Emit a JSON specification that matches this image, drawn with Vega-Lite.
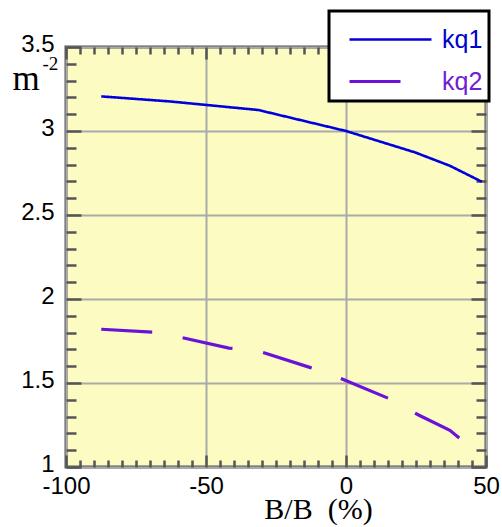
{
  "$schema": "https://vega.github.io/schema/vega-lite/v6.json",
  "width": 420,
  "height": 420,
  "autosize": "none",
  "padding": {"left": 66, "top": 47, "right": 16, "bottom": 60},
  "background": "white",
  "config": {
    "view": {"fill": "#fbfbc2", "stroke": "#555555", "strokeWidth": 3},
    "axis": {
      "labelFont": "Liberation Sans",
      "labelFontSize": 24,
      "labelColor": "black",
      "labelFlush": false,
      "labelOverlap": false,
      "labelBound": false,
      "domain": false,
      "tickColor": "#555555",
      "tickWidth": 2.5,
      "gridColor": "#aaaaaa",
      "gridWidth": 2
    }
  },
  "data": {
    "values": [
      {"db": -87.4, "m": 3.206, "s": "kq1"},
      {"db": -62.9, "m": 3.176, "s": "kq1"},
      {"db": -31.3, "m": 3.125, "s": "kq1"},
      {"db": 0, "m": 3.0, "s": "kq1"},
      {"db": 24.6, "m": 2.873, "s": "kq1"},
      {"db": 37.1, "m": 2.793, "s": "kq1"},
      {"db": 48.5, "m": 2.698, "s": "kq1"},
      {"db": -87.4, "m": 1.82, "s": "kq2"},
      {"db": -66.6, "m": 1.8, "s": "kq2"},
      {"db": -41.8, "m": 1.708, "s": "kq2"},
      {"db": -31.3, "m": 1.69, "s": "kq2"},
      {"db": -13.5, "m": 1.596, "s": "kq2"},
      {"db": -2.5, "m": 1.532, "s": "kq2"},
      {"db": 15.4, "m": 1.407, "s": "kq2"},
      {"db": 26.1, "m": 1.308, "s": "kq2"},
      {"db": 37.1, "m": 1.218, "s": "kq2"},
      {"db": 42.9, "m": 1.139, "s": "kq2"}
    ]
  },
  "layer": [
    {
      "mark": {"type": "line", "clip": true},
      "encoding": {
        "x": {
          "field": "db", "type": "quantitative",
          "scale": {"domain": [-100, 50], "nice": false, "zero": false},
          "axis": {
            "orient": "bottom",
            "values": [-100,-95,-90,-85,-80,-75,-70,-65,-60,-55,-50,-45,-40,-35,-30,-25,-20,-15,-10,-5,0,5,10,15,20,25,30,35,40,45,50],
            "labelExpr": "datum.value % 50 === 0 ? '' + datum.value : ''",
            "tickSize": {"condition": {"test": "datum.value % 50 === 0", "value": -12}, "value": -7},
            "labelPadding": 19,
            "grid": true,
            "gridOpacity": {"condition": {"test": "datum.value % 50 === 0", "value": 1}, "value": 0},
            "title": "B/B\u00a0 (%)",
            "titleFont": "Liberation Serif",
            "titleFontSize": 30,
            "titleFontWeight": "normal",
            "titleColor": "black",
            "titleX": 252,
            "titleY": 51,
            "titleAlign": "center",
            "titleBaseline": "alphabetic"
          }
        },
        "y": {
          "field": "m", "type": "quantitative",
          "scale": {"domain": [1, 3.5], "nice": false, "zero": false},
          "axis": {
            "orient": "left",
            "values": [1,1.1,1.2,1.3,1.4,1.5,1.6,1.7,1.8,1.9,2,2.1,2.2,2.3,2.4,2.5,2.6,2.7,2.8,2.9,3,3.1,3.2,3.3,3.4,3.5],
            "labelExpr": "abs(datum.value*2 - round(datum.value*2)) < 0.001 ? '' + datum.value : ''",
            "tickSize": {"condition": {"test": "abs(datum.value*2 - round(datum.value*2)) < 0.001", "value": -15}, "value": -10},
            "labelPadding": 27,
            "labelOffset": -3,
            "labelBaseline": "middle",
            "grid": true,
            "gridOpacity": {"condition": {"test": "abs(datum.value*2 - round(datum.value*2)) < 0.001", "value": 1}, "value": 0},
            "title": "m",
            "titleFont": "Liberation Serif",
            "titleFontSize": 35,
            "titleFontWeight": "normal",
            "titleColor": "black",
            "titleAngle": 0,
            "titleX": -54,
            "titleY": 42,
            "titleAlign": "left",
            "titleBaseline": "alphabetic"
          }
        },
        "color": {
          "field": "s", "type": "nominal",
          "scale": {"domain": ["kq1", "kq2"], "range": ["#0000dd", "#6a12d8"]},
          "legend": {
            "title": null,
            "orient": "none",
            "legendX": 263,
            "legendY": -36,
            "fillColor": "white",
            "strokeColor": "black",
            "padding": 6,
            "symbolType": "M-1.976,0H1.976",
            "symbolSize": 1722,
            "symbolStrokeWidth": 2.5,
            "symbolOffset": 33,
            "labelOffset": 29,
            "rowPadding": 6,
            "labelFont": "Liberation Sans",
            "labelFontSize": 25,
            "labelLimit": 200,
            "encode": {
              "legend": {"update": {"strokeWidth": {"value": 3}}},
              "symbols": {"update": {"strokeDash": {"signal": "datum.value === 'kq2' ? [48, 33] : [1, 0]"}}},
              "labels": {"update": {"fill": {"signal": "datum.value === 'kq1' ? '#0000d0' : '#7020d0'"}}}
            }
          }
        },
        "strokeDash": {
          "field": "s", "type": "nominal",
          "scale": {"domain": ["kq1", "kq2"], "range": [[1, 0], [51, 31]]},
          "legend": null
        },
        "strokeWidth": {
          "field": "s", "type": "nominal",
          "scale": {"domain": ["kq1", "kq2"], "range": [2.6, 3.2]},
          "legend": null
        }
      }
    },
    {
      "mark": {"type": "line", "strokeOpacity": 0},
      "encoding": {
        "x": {
          "field": "db", "type": "quantitative",
          "axis": {
            "orient": "top",
            "values": [-100,-95,-90,-85,-80,-75,-70,-65,-60,-55,-50,-45,-40,-35,-30,-25,-20,-15,-10,-5,0,5,10,15,20,25,30,35,40,45,50],
            "labels": false,
            "grid": false,
            "tickSize": {"condition": {"test": "datum.value % 50 === 0", "value": -12}, "value": -7},
            "title": "-2",
            "titleFont": "Liberation Serif",
            "titleFontSize": 19,
            "titleFontWeight": "normal",
            "titleColor": "black",
            "titleX": -24,
            "titleY": 22,
            "titleAlign": "left",
            "titleBaseline": "alphabetic"
          }
        },
        "y": {
          "field": "m", "type": "quantitative",
          "axis": {
            "orient": "right",
            "values": [1,1.1,1.2,1.3,1.4,1.5,1.6,1.7,1.8,1.9,2,2.1,2.2,2.3,2.4,2.5,2.6,2.7,2.8,2.9,3,3.1,3.2,3.3,3.4,3.5],
            "labels": false,
            "grid": false,
            "tickSize": {"condition": {"test": "abs(datum.value*2 - round(datum.value*2)) < 0.001", "value": -15}, "value": -10},
            "title": null
          }
        },
        "detail": {"field": "s", "type": "nominal"}
      }
    }
  ],
  "resolve": {"axis": {"x": "independent", "y": "independent"}}
}
